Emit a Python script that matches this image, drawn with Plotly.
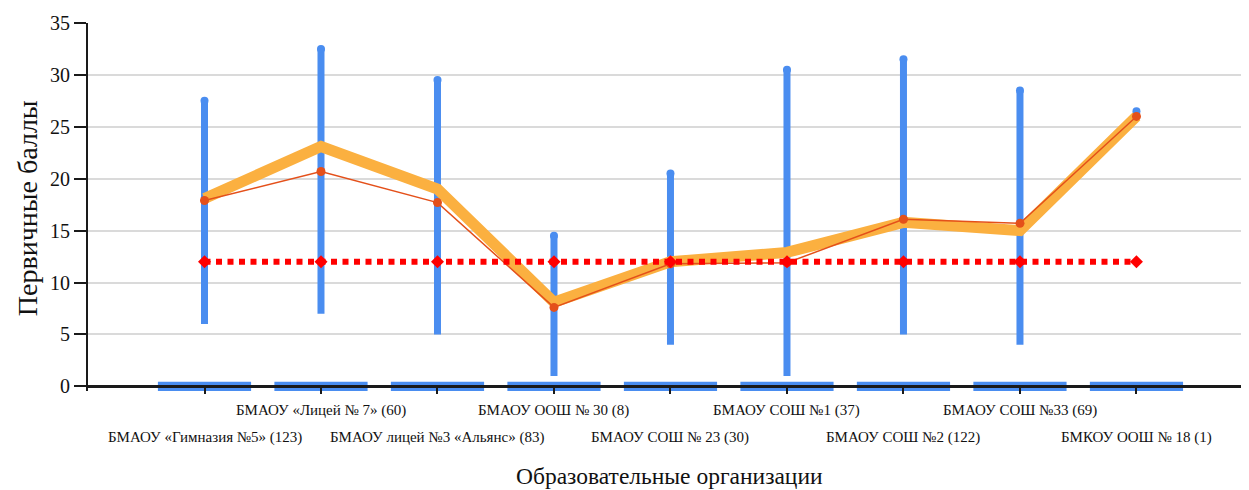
import plotly.graph_objects as go

categories = [
    "БМАОУ «Гимназия №5» (123)",
    "БМАОУ «Лицей № 7» (60)",
    "БМАОУ лицей №3 «Альянс» (83)",
    "БМАОУ ООШ № 30 (8)",
    "БМАОУ СОШ № 23 (30)",
    "БМАОУ СОШ №1 (37)",
    "БМАОУ СОШ №2 (122)",
    "БМАОУ СОШ №33 (69)",
    "БМКОУ ООШ № 18 (1)",
]
score_min = [6, 7, 5, 1, 4, 1, 5, 4, 26]
score_max = [27.5, 32.5, 29.5, 14.5, 20.5, 30.5, 31.5, 28.5, 26.5]
avg_thick = [18.1, 23.1, 19.0, 8.1, 12.0, 12.9, 15.8, 15.0, 26.0]
avg_thin = [17.9, 20.7, 17.7, 7.6, 11.8, 11.9, 16.1, 15.7, 26.0]
threshold = [12] * 9
base_band = [0.9] * 9

BLUE = "#4A8DF0"
ORANGE = "#FBB040"
RED_ORANGE = "#E4501A"
RED = "#FF0000"
FONT = "Liberation Serif"

Y_MIN, Y_MAX = -0.45, 35

idx = list(range(len(categories)))

fig = go.Figure()

# blue bands on the axis
fig.add_trace(go.Bar(
    x=idx, y=base_band, base=[-v / 2 for v in base_band], width=0.8,
    marker=dict(color=BLUE, line=dict(width=0)),
    showlegend=False, hoverinfo="skip",
))

# min-max vertical lines
vx, vy = [], []
for i, lo, hi in zip(idx, score_min, score_max):
    vx += [i, i, None]
    vy += [lo, hi, None]
fig.add_trace(go.Scatter(
    x=vx, y=vy, mode="lines", line=dict(color=BLUE, width=7),
    showlegend=False, hoverinfo="skip",
))
fig.add_trace(go.Scatter(
    x=idx, y=score_max, mode="markers", marker=dict(color=BLUE, size=8),
    showlegend=False,
))

# thick orange line
fig.add_trace(go.Scatter(
    x=idx, y=avg_thick, mode="lines", line=dict(color=ORANGE, width=11),
    showlegend=False,
))
# thin red-orange line
fig.add_trace(go.Scatter(
    x=idx, y=avg_thin, mode="lines+markers",
    line=dict(color=RED_ORANGE, width=1.5),
    marker=dict(color=RED_ORANGE, size=9),
    showlegend=False,
))
# red dotted threshold
fig.add_trace(go.Scatter(
    x=idx, y=threshold, mode="lines+markers",
    line=dict(color=RED, width=6, dash="6px,5.5px"),
    marker=dict(color=RED, size=10, symbol="diamond"),
    showlegend=False,
))

# staggered category labels
annotations = []
for i, name in enumerate(categories):
    annotations.append(dict(
        x=i, y=-0.0525 if i % 2 else -0.126, xref="x", yref="paper",
        text=name, showarrow=False, xanchor="center", yanchor="middle",
        font=dict(family=FONT, size=15, color="#111"),
    ))
annotations.append(dict(
    x=0.501, y=-0.232, xref="paper", yref="paper",
    text="Образовательные организации", showarrow=False,
    xanchor="center", yanchor="middle",
    font=dict(family=FONT, size=23.5, color="#111"),
))
annotations.append(dict(
    x=-0.0525, y=0.497, xref="paper", yref="paper",
    text="Первичные баллы", showarrow=False, textangle=-90,
    xanchor="center", yanchor="middle",
    font=dict(family=FONT, size=28, color="#111"),
))

fig.update_layout(
    width=1241, height=482,
    margin=dict(l=80, r=0, t=15, b=99),
    paper_bgcolor="white", plot_bgcolor="white",
    annotations=annotations,
)
fig.update_xaxes(
    range=[-1, 8.966], tickmode="array", tickvals=idx, showticklabels=False,
    showgrid=False, zeroline=False,
    anchor="free", position=(0 - Y_MIN) / (Y_MAX - Y_MIN),
    showline=True, linecolor="#1a1a1a", linewidth=2.5, layer="above traces",
    ticks="outside", ticklen=6, tickcolor="#1a1a1a", tickwidth=1.5,
)
fig.update_yaxes(
    range=[Y_MIN, Y_MAX], tickmode="array", tickvals=[0, 5, 10, 15, 20, 25, 30, 35],
    showgrid=True, gridcolor="#dadada", gridwidth=1.5,
    zeroline=False,
    showline=True, linecolor="#1a1a1a", linewidth=2,
    ticks="outside", ticklen=12, tickcolor="#1a1a1a", tickwidth=1.5,
    tickfont=dict(family=FONT, size=20, color="#111"),
)

fig.write_html("out.html")
